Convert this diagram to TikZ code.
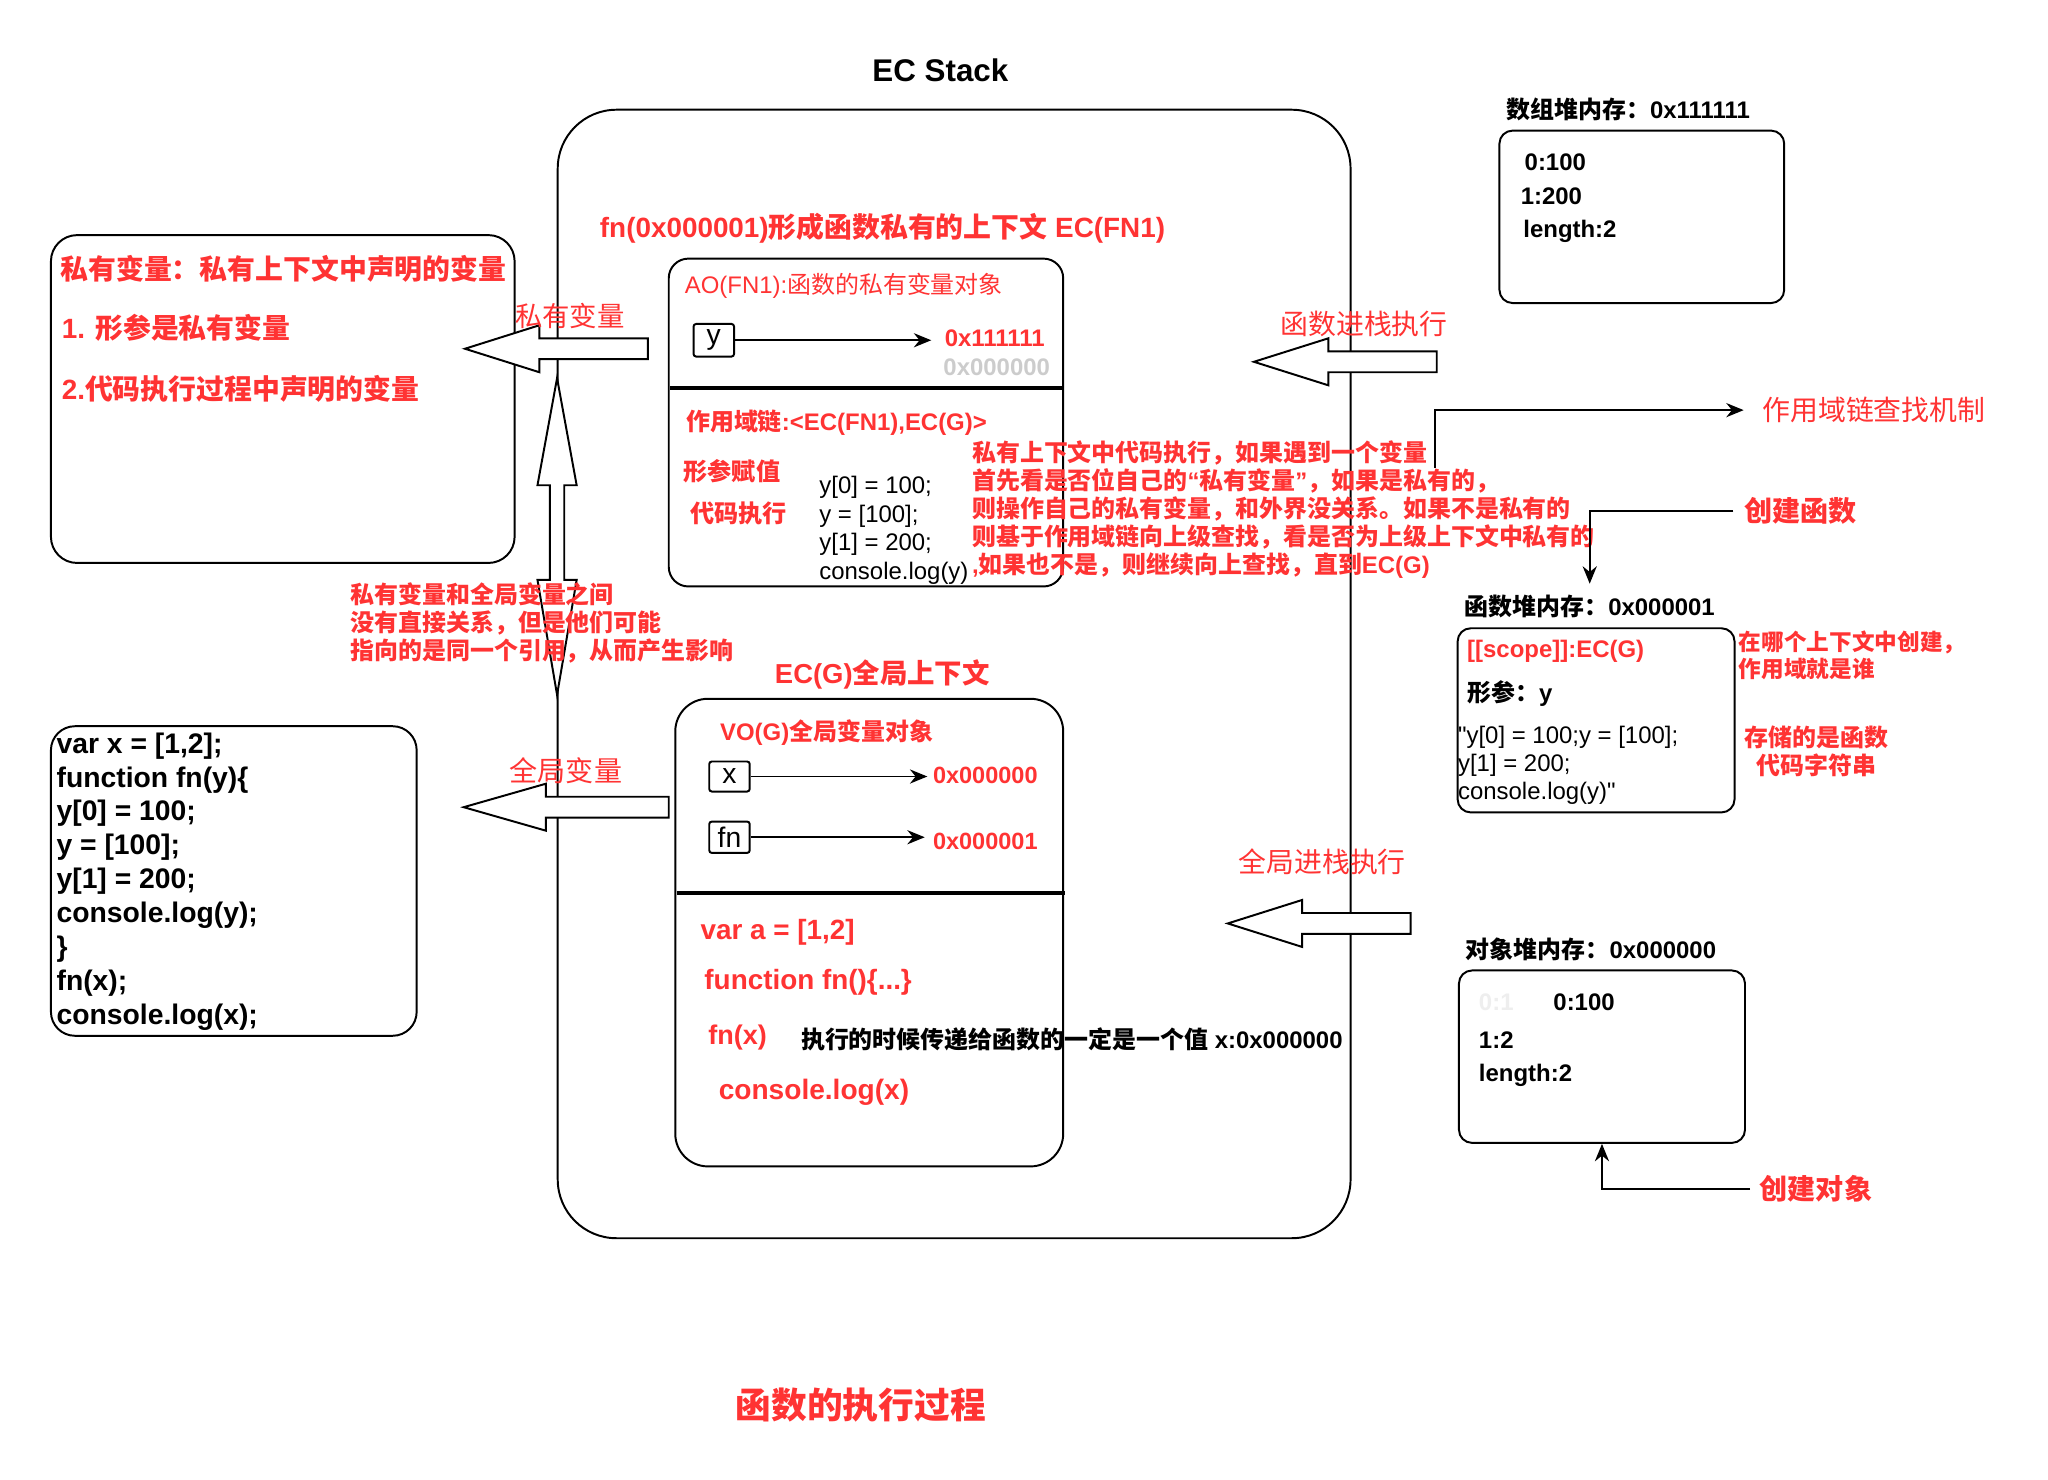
\documentclass[tikz,border=0pt]{standalone}
\usepackage{fontspec}
\setmainfont{Liberation Sans}
\newfontfamily\cjk{Noto Sans CJK SC}
\usetikzlibrary{arrows.meta,fit}
\newcommand\zh[1]{{\cjk #1}}
\newcommand\fsz[2]{\fontsize{#1}{#2}\selectfont}
\definecolor{dred}{HTML}{FF3333}
\definecolor{lgray}{HTML}{CCCCCC}
\definecolor{vlgray}{HTML}{EEEEEE}
\begin{document}
\begin{tikzpicture}[x=0.6pt,y=-0.6pt,
  rbox/.style={draw, line width=0.9pt, inner sep=0pt},
  smallbox/.style={draw, line width=0.9pt, rounded corners=1.2pt, inner sep=0pt, font=\fsz{13}{15}},
  txt/.style={inner sep=0pt, anchor=west},
  rtxt/.style={txt, text=dred},
  conn/.style={draw, line width=0.9pt, -{Stealth[length=8pt,width=6.5pt]}},
  barrow/.style={draw, fill=white, line width=0.9pt, line join=miter},
  sepline/.style={draw, line width=1.8pt},
]
\fill[white] (0,0) rectangle (1568,1133);
\useasboundingbox (0,0) rectangle (1568,1133);

% EC stack container
\node[rbox, rounded corners=27pt, fit={(427,84) (1034,948)}] (ecStack) {};
\node[font=\bfseries\fsz{14.4}{17}, inner sep=0pt] (ecTitle) at (720,54) {EC Stack};

% fn private context
\node[rtxt, font=\bfseries\fsz{12.8}{15}] (fnTitle) at (459,175) {fn(0x000001)\zh{形成函数私有的上下文} EC(FN1)};
\node[rbox, rounded corners=9pt, fit={(512,198) (814,449)}] (aoBox) {};
\node[rtxt, font=\fsz{11}{13}] (aoLbl) at (524,219) {AO(FN1):\zh{函数的私有变量对象}};
\node[smallbox, minimum width=18.6pt, minimum height=15pt] (yvar) at (546.5,260.5) {y};
\node[rtxt, font=\bfseries\fsz{11}{12}] (yAddr) at (723,259) {0x111111};
\node[txt, text=lgray, font=\bfseries\fsz{11}{12}] (yOld) at (722,281) {0x000000};
\draw[conn, shorten >=6pt] (yvar) -- (yvar -| yAddr.west);
\draw[sepline] (513,297) -- (813,297);
\node[rtxt, font=\bfseries\fsz{11}{13}] (scopeChain) at (525,324) {\zh{作用域链}:<EC(FN1),EC(G)>};
\node[rtxt, font=\bfseries\fsz{11.1}{13}] (argAssign) at (523,361) {\zh{形参赋值}};
\node[rtxt, font=\bfseries\fsz{11.1}{13}] (codeExec) at (528,393) {\zh{代码执行}};
\node[txt, align=left, font=\fsz{11}{13.1}] (aoCode) at (627,406) {y[0] = 100;\\ y = [100];\\ y[1] = 200;\\ console.log(y)};

% explanation
\node[rtxt, align=left, font=\bfseries\fsz{11}{12.9}] (explain) at (744,390) {\zh{私有上下文中代码执行，如果遇到一个变量}\\ \zh{首先看是否位自己的}“\zh{私有变量}”\zh{，如果是私有的，}\\ \zh{则操作自己的私有变量，和外界没关系。如果不是私有的}\\ \zh{则基于作用域链向上级查找，看是否为上级上下文中私有的}\\ ,\zh{如果也不是，则继续向上查找，直到}EC(G)};

% left private variable box
\node[rbox, rounded corners=12pt, fit={(39,180) (394,431)}] (privBox) {};
\node[rtxt, font=\bfseries\fsz{12.8}{15}] (priv1) at (46,206) {\zh{私有变量：私有上下文中声明的变量}};
\node[rtxt, font=\bfseries\fsz{12.8}{15}] (priv2) at (47,251) {1. \zh{形参是私有变量}};
\node[rtxt, font=\bfseries\fsz{12.8}{15}] (priv3) at (47,298) {2.\zh{代码执行过程中声明的变量}};

% global context
\node[rtxt, font=\bfseries\fsz{12.6}{14}] (ecgTitle) at (593,516) {EC(G)\zh{全局上下文}};
\node[rbox, rounded corners=15pt, fit={(517,535) (814,893)}] (voBox) {};
\node[rtxt, font=\bfseries\fsz{11}{13}] (voLbl) at (551,561) {VO(G)\zh{全局变量对象}};
\node[smallbox, minimum width=18.6pt, minimum height=13.8pt] (xvar) at (558.5,594.5) {x};
\node[smallbox, minimum width=18.6pt, minimum height=14.4pt] (fnvar) at (558.5,641) {fn};
\node[rtxt, font=\bfseries\fsz{10.8}{12}] (xAddr) at (714,594) {0x000000};
\node[rtxt, font=\bfseries\fsz{10.8}{12}] (fnAddr) at (714,644) {0x000001};
\draw[conn, shorten >=2.4pt] (xvar) -- (xvar -| xAddr.west);
\draw[conn, shorten >=3.6pt] (fnvar) -- (fnvar -| fnAddr.west);
\draw[sepline] (518,684) -- (815,684);
\node[rtxt, font=\bfseries\fsz{12.8}{15}] (gVar) at (536,714) {var a = [1,2]};
\node[rtxt, font=\bfseries\fsz{12.8}{15}] (gFunc) at (539,752) {function fn()\{...\}};
\node[rtxt, font=\bfseries\fsz{12.4}{14}] (gCall) at (542,794) {fn(x)};
\node[txt, font=\bfseries\fsz{11}{13}] (passNote) at (613,796) {\zh{执行的时候传递给函数的一定是一个值} x:0x000000};
\node[rtxt, font=\bfseries\fsz{12.9}{15}] (gLog) at (550,836) {console.log(x)};

% left code box
\node[rbox, rounded corners=11pt, fit={(39,556) (319,793)}] (codeBox) {};
\node[txt, align=left, font=\bfseries\fsz{13}{15.6}] (codeTxt) at (43,675) {var x = [1,2];\\ function fn(y)\{\\ y[0] = 100;\\ y = [100];\\ y[1] = 200;\\ console.log(y);\\ \}\\ fn(x);\\ console.log(x);};

% block arrows
\draw[barrow] (356,267) -- (413,249) -- (413,259) -- (496,259) -- (496,275) -- (413,275) -- (413,285) -- cycle;
\draw[barrow] (426.5,289.5) -- (441.5,371.5) -- (432,371.5) -- (432,444) -- (441.5,444) -- (426.5,532) -- (411.5,444) -- (421,444) -- (421,371.5) -- (411.5,371.5) -- cycle;
\draw[barrow] (355,618) -- (418,600) -- (418,610) -- (512,610) -- (512,626) -- (418,626) -- (418,636) -- cycle;
\draw[barrow] (960,277) -- (1017,259) -- (1017,269) -- (1100,269) -- (1100,285) -- (1017,285) -- (1017,295) -- cycle;
\draw[barrow] (940,707) -- (997,689) -- (997,699) -- (1080,699) -- (1080,715) -- (997,715) -- (997,725) -- cycle;

\node[rtxt, font=\fsz{12.6}{15}] (privLbl) at (394,242) {\zh{私有变量}};
\node[rtxt, font=\fsz{12.9}{15}] (globLbl) at (390,590) {\zh{全局变量}};
\node[rtxt, font=\fsz{12.8}{15}] (fnPush) at (980,248) {\zh{函数进栈执行}};
\node[rtxt, font=\fsz{12.8}{15}] (gPush) at (948,660) {\zh{全局进栈执行}};
\node[rtxt, align=left, font=\bfseries\fsz{11}{12.9}] (relNote) at (268,477) {\zh{私有变量和全局变量之间}\\ \zh{没有直接关系，但是他们可能}\\ \zh{指向的是同一个引用，从而产生影响}};

% array heap
\node[txt, font=\bfseries\fsz{11}{13}] (arrTitle) at (1153,84) {\zh{数组堆内存：}0x111111};
\node[rbox, rounded corners=6pt, fit={(1148,100) (1366,232)}] (arrBox) {};
\node[txt, font=\bfseries\fsz{11}{13}] (arr0) at (1167,124) {0:100};
\node[txt, font=\bfseries\fsz{11}{13}] (arr1) at (1164,150) {1:200};
\node[txt, font=\bfseries\fsz{11}{13}] (arrLen) at (1166,177) {length:2};

% function heap
\node[txt, font=\bfseries\fsz{11}{13}] (fhTitle) at (1121,464) {\zh{函数堆内存：}0x000001};
\node[rbox, rounded corners=6pt, fit={(1116,481) (1328,622)}] (fhBox) {};
\node[rtxt, font=\bfseries\fsz{11}{13}] (fhScope) at (1123,499) {[[scope]]:EC(G)};
\node[txt, font=\bfseries\fsz{11}{13}] (fhArg) at (1123,531) {\zh{形参：}y};
\node[txt, align=left, font=\fsz{11}{12.9}] (fhCode) at (1116,586) {\textquotedbl y[0] = 100;y = [100];\\ y[1] = 200;\\ console.log(y)\textquotedbl};
\node[rtxt, align=left, font=\bfseries\fsz{10.4}{12.6}] (fhNote1) at (1331,501.5) {\zh{在哪个上下文中创建，}\\ \zh{作用域就是谁}};
\node[text=dred, inner sep=0pt, align=center, font=\bfseries\fsz{11}{12.9}] (fhNote2) at (1390.5,575) {\zh{存储的是函数}\\ \zh{代码字符串}};

% object heap
\node[txt, font=\bfseries\fsz{11}{13}] (objTitle) at (1122,727) {\zh{对象堆内存：}0x000000};
\node[rbox, rounded corners=6pt, fit={(1117,743) (1336,875)}] (objBox) {};
\node[txt, text=vlgray, font=\bfseries\fsz{11}{13}] (obj0old) at (1132,767) {0:1};
\node[txt, font=\bfseries\fsz{11}{13}] (obj0) at (1189,767) {0:100};
\node[txt, font=\bfseries\fsz{11}{13}] (obj1) at (1132,796) {1:2};
\node[txt, font=\bfseries\fsz{11}{13}] (objLen) at (1132,823) {length:2};

% connectors with labels
\coordinate (scStart) at (1099,358);
\node[rtxt, font=\fsz{12.8}{15}] (scLbl) at (1349,314) {\zh{作用域链查找机制}};
\draw[conn] (scStart) |- ([xshift=-8.4pt]scLbl.west);
\node[rtxt, font=\bfseries\fsz{12.9}{15}] (cfLbl) at (1335,391) {\zh{创建函数}};
\draw[conn] ([xshift=-4.8pt]cfLbl.west) -| ([yshift=4.8pt]fhTitle.north);
\node[rtxt, font=\bfseries\fsz{12.9}{15}] (coLbl) at (1347,910) {\zh{创建对象}};
\draw[conn] ([xshift=-4.2pt]coLbl.west) -| (objBox.south);

% bottom title
\node[text=dred, inner sep=0pt, font=\bfseries\fsz{16.4}{19}] (mainTitle) at (659,1076) {\zh{函数的执行过程}};
\end{tikzpicture}
\end{document}
